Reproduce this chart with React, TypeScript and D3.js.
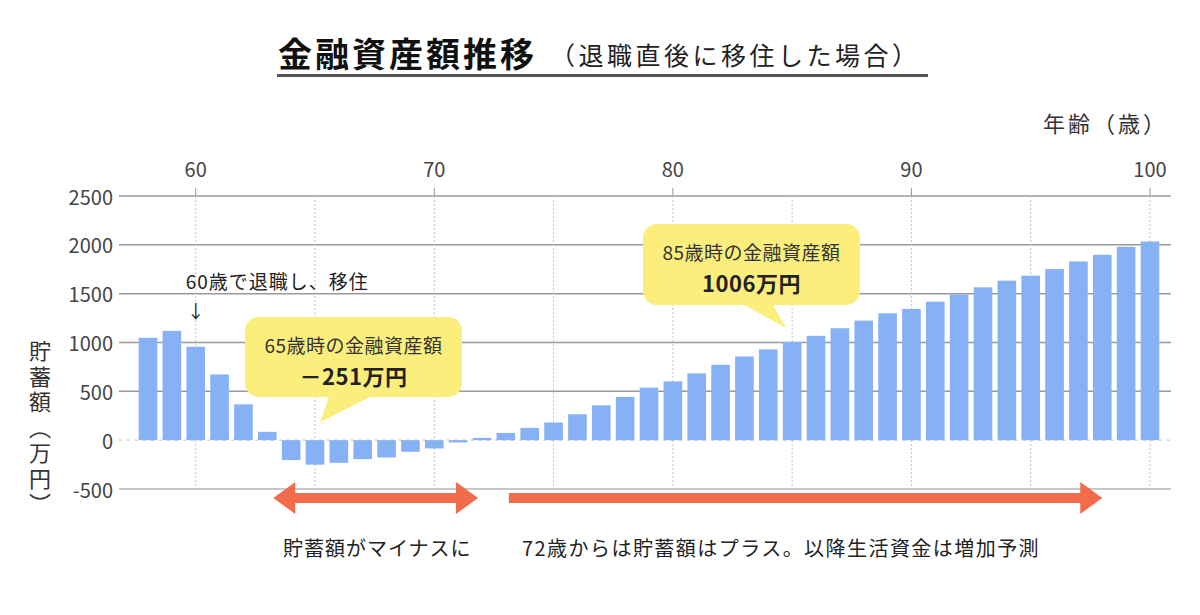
import React, { useEffect, useRef } from "react";
import * as d3 from "d3";

// 年齢ごとの金融資産額（万円）
const ages = [
  58, 59, 60, 61, 62, 63, 64, 65, 66, 67, 68, 69, 70, 71, 72, 73, 74, 75, 76,
  77, 78, 79, 80, 81, 82, 83, 84, 85, 86, 87, 88, 89, 90, 91, 92, 93, 94, 95,
  96, 97, 98, 99, 100,
];
const savings = [
  1048, 1119, 956, 673, 367, 85, -204, -251, -232, -194, -177, -119, -85, -23,
  23, 74, 126, 181, 265, 357, 442, 538, 602, 684, 772, 857, 929, 1006, 1068,
  1146, 1224, 1299, 1344, 1418, 1490, 1565, 1633, 1684, 1752, 1830, 1898, 1980,
  2034,
];
const yTicks = [-500, 0, 500, 1000, 1500, 2000, 2500];
const ageLabels = [60, 70, 80, 90, 100];
const ageGrid = [60, 65, 70, 75, 80, 85, 90, 95, 100];

const WIDTH = 1200;
const HEIGHT = 615;
const FONT = '"Noto Sans CJK JP", "Noto Sans", sans-serif';
const BAR = "#86b1f5";
const NOTE = "#fcee7c";
const ARROW = "#f26b4c";

type G = d3.Selection<SVGGElement, unknown, null, undefined>;

export default function App() {
  const svgRef = useRef<SVGSVGElement>(null);

  useEffect(() => {
    if (!svgRef.current) return;
    const svg = d3.select(svgRef.current);
    svg.selectAll("*").remove();
    const g = svg.append("g").attr("font-family", FONT);

    const x = d3
      .scaleBand<number>()
      .domain(ages)
      .range([136.07, 1161.93])
      .paddingInner(0.22)
      .paddingOuter(0.11);
    const cx = (age: number) => (x(age) ?? 0) + x.bandwidth() / 2;
    const y = d3.scaleLinear().domain([-500, 2500]).range([489, 196]);

    // title
    g.append("text")
      .attr("x", 278)
      .attr("y", 52)
      .attr("dominant-baseline", "central")
      .attr("font-size", 34)
      .attr("font-weight", "bold")
      .attr("letter-spacing", 3)
      .attr("fill", "#111")
      .text("金融資産額推移");
    g.append("text")
      .attr("x", 550)
      .attr("y", 54)
      .attr("dominant-baseline", "central")
      .attr("font-size", 25)
      .attr("letter-spacing", 3.5)
      .attr("fill", "#222")
      .text("（退職直後に移住した場合）");
    g.append("line")
      .attr("x1", 277)
      .attr("x2", 928)
      .attr("y1", 75.5)
      .attr("y2", 75.5)
      .attr("stroke", "#555")
      .attr("stroke-width", 3);

    // horizontal grid + y labels
    g.selectAll(".hgrid")
      .data(yTicks.filter((t) => t !== 0))
      .enter()
      .append("line")
      .attr("x1", 119)
      .attr("x2", 1171)
      .attr("y1", (d) => y(d))
      .attr("y2", (d) => y(d))
      .attr("stroke", (d) => (d < 0 ? "#b5b5b5" : "#9a9a9a"))
      .attr("stroke-width", 1.5);
    g.append("line")
      .attr("x1", 119)
      .attr("x2", 1171)
      .attr("y1", y(0))
      .attr("y2", y(0))
      .attr("stroke", "#e2b98e")
      .attr("stroke-width", 1)
      .attr("stroke-dasharray", "3,5");
    g.selectAll(".ylab")
      .data(yTicks)
      .enter()
      .append("text")
      .attr("x", 113)
      .attr("y", (d) => y(d))
      .attr("dominant-baseline", "central")
      .attr("text-anchor", "end")
      .attr("font-size", 20)
      .attr("fill", "#444")
      .text((d) => String(d));

    // vertical dotted grid
    g.selectAll(".vgrid")
      .data(ageGrid)
      .enter()
      .append("line")
      .attr("x1", (d) => cx(d))
      .attr("x2", (d) => cx(d))
      .attr("y1", y(2500))
      .attr("y2", y(-500))
      .attr("stroke", "#c4c4c4")
      .attr("stroke-width", 1)
      .attr("stroke-dasharray", "2,2");
    g.selectAll(".xtick")
      .data(ageLabels)
      .enter()
      .append("line")
      .attr("x1", (d) => cx(d))
      .attr("x2", (d) => cx(d))
      .attr("y1", y(2500) - 8)
      .attr("y2", y(2500))
      .attr("stroke", "#999")
      .attr("stroke-width", 1);
    g.selectAll(".xlab")
      .data(ageLabels)
      .enter()
      .append("text")
      .attr("x", (d) => cx(d))
      .attr("y", 168)
      .attr("dominant-baseline", "central")
      .attr("text-anchor", "middle")
      .attr("font-size", 20)
      .attr("fill", "#444")
      .text((d) => String(d));

    g.append("text")
      .attr("x", 1043)
      .attr("y", 122)
      .attr("dominant-baseline", "central")
      .attr("font-size", 22)
      .attr("letter-spacing", 3)
      .attr("fill", "#333")
      .text("年齢（歳）");

    g.append("text")
      .attr("x", 40)
      .attr("y", 340)
      .attr("font-size", 22)
      .attr("letter-spacing", 3.5)
      .attr("fill", "#333")
      .style("writing-mode", "vertical-rl")
      .text("貯蓄額（万円）");

    // bars
    g.selectAll(".bar")
      .data(ages)
      .enter()
      .append("rect")
      .attr("class", "bar")
      .attr("x", (d) => x(d) ?? 0)
      .attr("width", x.bandwidth())
      .attr("y", (_, i) => y(Math.max(0, savings[i])))
      .attr("height", (_, i) => Math.abs(y(savings[i]) - y(0)))
      .attr("fill", BAR);

    // retirement note
    g.append("text")
      .attr("x", cx(60) - 10)
      .attr("y", 280)
      .attr("dominant-baseline", "central")
      .attr("font-size", 19)
      .attr("letter-spacing", 1)
      .attr("fill", "#222")
      .text("60歳で退職し、移住");
    g.append("text")
      .attr("x", cx(60))
      .attr("y", 310)
      .attr("dominant-baseline", "central")
      .attr("text-anchor", "middle")
      .attr("font-size", 18)
      .attr("fill", "#222")
      .text("↓");

    // callouts
    const v65 = savings[ages.indexOf(65)];
    const v85 = savings[ages.indexOf(85)];
    drawCallout(g, {
      left: 245,
      right: 462,
      top: 317,
      bottom: 397,
      base1: 329,
      base2: 370,
      tipX: cx(65) + 5,
      tipY: y(0) - 18,
      line1: "65歳時の金融資産額",
      line2: `－${Math.abs(v65)}万円`,
    });
    drawCallout(g, {
      left: 643,
      right: 860,
      top: 224,
      bottom: 305,
      base1: 744,
      base2: 773,
      tipX: cx(85) - 6,
      tipY: y(v85) - 14,
      line1: "85歳時の金融資産額",
      line2: `${v85}万円`,
    });

    // period arrows
    drawArrow(g, cx(63) + 6, cx(72) - 4, 498, true);
    drawArrow(g, cx(73) + 3, cx(98), 498, false);

    g.append("text")
      .attr("x", 283)
      .attr("y", 547)
      .attr("dominant-baseline", "central")
      .attr("font-size", 20)
      .attr("letter-spacing", 1)
      .attr("fill", "#222")
      .text("貯蓄額がマイナスに");
    g.append("text")
      .attr("x", 522)
      .attr("y", 547)
      .attr("dominant-baseline", "central")
      .attr("font-size", 20)
      .attr("letter-spacing", 1.45)
      .attr("fill", "#222")
      .text("72歳からは貯蓄額はプラス。以降生活資金は増加予測");
  }, []);

  return (
    <svg
      ref={svgRef}
      width={WIDTH}
      height={HEIGHT}
      style={{ position: "absolute", left: 0, top: 0, background: "#fff" }}
    />
  );
}

interface Callout {
  left: number;
  right: number;
  top: number;
  bottom: number;
  base1: number;
  base2: number;
  tipX: number;
  tipY: number;
  line1: string;
  line2: string;
}

// rounded speech bubble with a pointer on its lower edge
function drawCallout(g: G, c: Callout) {
  const r = 14;
  const p = d3.path();
  p.moveTo(c.left + r, c.top);
  p.lineTo(c.right - r, c.top);
  p.arcTo(c.right, c.top, c.right, c.top + r, r);
  p.lineTo(c.right, c.bottom - r);
  p.arcTo(c.right, c.bottom, c.right - r, c.bottom, r);
  p.lineTo(c.base2, c.bottom);
  p.lineTo(c.tipX, c.tipY);
  p.lineTo(c.base1, c.bottom);
  p.lineTo(c.left + r, c.bottom);
  p.arcTo(c.left, c.bottom, c.left, c.bottom - r, r);
  p.lineTo(c.left, c.top + r);
  p.arcTo(c.left, c.top, c.left + r, c.top, r);
  p.closePath();
  g.append("path").attr("d", p.toString()).attr("fill", NOTE);

  const mid = (c.left + c.right) / 2;
  g.append("text")
    .attr("x", mid)
    .attr("y", c.top + 27)
    .attr("dominant-baseline", "central")
    .attr("text-anchor", "middle")
    .attr("font-size", 19)
    .attr("letter-spacing", 0.5)
    .attr("fill", "#333")
    .text(c.line1);
  g.append("text")
    .attr("x", mid)
    .attr("y", c.top + 58)
    .attr("dominant-baseline", "central")
    .attr("text-anchor", "middle")
    .attr("font-size", 22)
    .attr("font-weight", "bold")
    .attr("letter-spacing", 0.5)
    .attr("fill", "#222")
    .text(c.line2);
}

function drawArrow(g: G, x1: number, x2: number, yc: number, both: boolean) {
  const head = 22;
  const hh = 16;
  const sh = 5;
  const pts: [number, number][] = [];
  if (both) {
    pts.push([x1, yc], [x1 + head, yc - hh], [x1 + head, yc - sh]);
  } else {
    pts.push([x1, yc - sh]);
  }
  pts.push([x2 - head, yc - sh], [x2 - head, yc - hh], [x2, yc]);
  pts.push([x2 - head, yc + hh], [x2 - head, yc + sh]);
  if (both) {
    pts.push([x1 + head, yc + sh], [x1 + head, yc + hh]);
  } else {
    pts.push([x1, yc + sh]);
  }
  g.append("path")
    .attr("d", d3.line()(pts) + "Z")
    .attr("fill", ARROW);
}
